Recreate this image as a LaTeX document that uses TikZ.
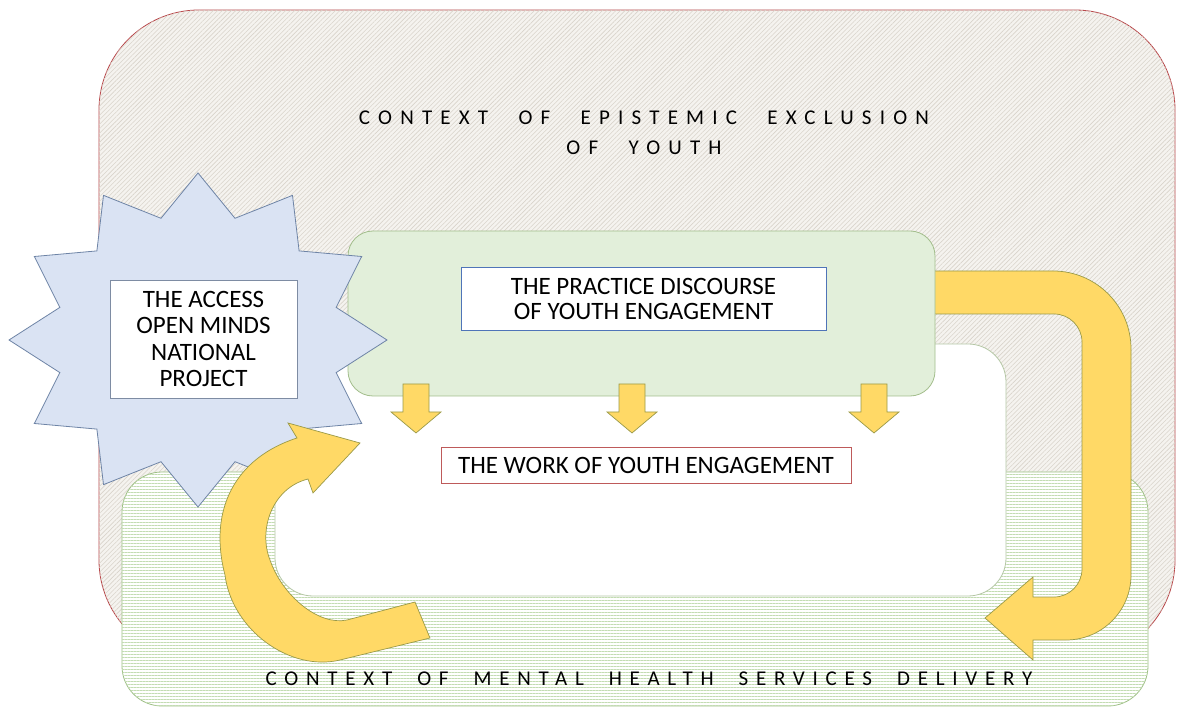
\documentclass[tikz,border=0pt]{standalone}
\usepackage{fontspec}
\setmainfont{Carlito}
\newfontfamily\spacedfont[LetterSpace=39,WordSpace=2.35]{Carlito}
\newfontfamily\spacedfontb[LetterSpace=37,WordSpace=2.0]{Carlito}
\usetikzlibrary{patterns.meta}
\definecolor{redborder}{HTML}{B8474A}
\definecolor{hatchbg}{HTML}{F5F3EF}
\definecolor{hatchline}{HTML}{D9D4CB}
\definecolor{greenline}{HTML}{C3DCB2}
\definecolor{greenborder}{HTML}{9DBF85}
\definecolor{practicefill}{HTML}{E2EFDA}
\definecolor{practiceborder}{HTML}{A3BE8C}
\definecolor{whiteborder}{HTML}{B5C7A5}
\definecolor{arrowfill}{HTML}{FFD966}
\definecolor{arrowborder}{HTML}{9A9A48}
\definecolor{starfill}{HTML}{DAE3F3}
\definecolor{starborder}{HTML}{6E84A6}
\definecolor{boxblue}{HTML}{4F74B8}
\definecolor{boxred}{HTML}{BE5A5A}
\definecolor{boxgray}{HTML}{7E8CA3}
\tikzset{
  epistemic/.style={draw=redborder, line width=0.8pt, fill=hatchbg,
    postaction={pattern={Lines[angle=45,distance=3.2pt,line width=0.6pt]}, pattern color=hatchline}},
  mentalhealth/.style={draw=greenborder, line width=0.8pt, fill=white,
    postaction={pattern={Lines[angle=0,distance=3pt,line width=0.7pt]}, pattern color=greenline}},
  workarea/.style={draw=whiteborder, line width=0.8pt, fill=white},
  practicearea/.style={draw=practiceborder, line width=0.8pt, fill=practicefill},
  yellowarrow/.style={draw=arrowborder, line width=0.7pt, fill=arrowfill, line join=miter},
  starshape/.style={draw=starborder, line width=0.8pt, fill=starfill},
  textbox/.style={fill=white, line width=0.8pt, align=center, inner sep=0pt,
    font=\fontsize{25}{26.5}\selectfont},
  contextlabel/.style={align=center, inner sep=0pt,
    font=\spacedfont\fontsize{21}{30}\selectfont}
}
\begin{document}
\begin{tikzpicture}[x=1pt,y=-1pt]
\useasboundingbox (0,0) rectangle (1179,708);
\fill[white] (0,0) rectangle (1179,708);

% context of epistemic exclusion
\path[epistemic, rounded corners=100] (99,10) rectangle (1175,660);
% context of mental health services delivery
\path[mentalhealth, rounded corners=40] (122,472) rectangle (1148,706);
% work area
\path[workarea, rounded corners=38] (275,344) rectangle (1006,596);

% big right arrow
\draw[yellowarrow] (925,271) -- (1053,271) arc[start angle=-90, end angle=0, radius=78]
  -- (1131,575) arc[start angle=0, end angle=90, radius=65]
  -- (1033,640) -- (1033,660) -- (985,618) -- (1033,577) -- (1033,597)
  -- (1054,597) arc[start angle=90, end angle=0, radius=28]
  -- (1082,342) arc[start angle=0, end angle=-90, radius=28]
  -- (925,314) -- cycle;

% practice discourse area
\path[practicearea, rounded corners=25] (348,231) rectangle (935,396);

% down arrows
\foreach \cx in {416,632,874}{
  \draw[yellowarrow] (\cx-13,384) -- (\cx+13,384) -- (\cx+13,412) -- (\cx+25,412)
    -- (\cx,433) -- (\cx-25,412) -- (\cx-13,412) -- cycle;
}

% star
\begin{scope}[shift={(198,340)}]
\draw[starshape] (0:189 and 167)
  \foreach \a in {0,30,...,330}{ -- ({\a+15}:143 and 126) -- ({\a+30}:189 and 167) } -- cycle;
\end{scope}

% curved left arrow
\draw[yellowarrow] (430,638) -- (340,660) .. controls (290,672) and (232,630) .. (225,575)
  .. controls (208,510) and (235,458) .. (297,438) -- (288,423) -- (360,443) -- (313,493)
  -- (308,479) .. controls (272,488) and (258,530) .. (270,560)
  .. controls (282,595) and (318,626) .. (347,620) -- (415,602) -- cycle;

% text
\node[contextlabel] (epistemiclabel) at (644,133) {CONTEXT OF EPISTEMIC EXCLUSION\\OF YOUTH};
\node[contextlabel, font=\spacedfontb\fontsize{21}{30}\selectfont] (mhlabel) at (649,679)
  {CONTEXT OF MENTAL HEALTH SERVICES DELIVERY};
\node[textbox, draw=boxgray, minimum width=187, minimum height=118] (access) at (203.5,339)
  {THE ACCESS\\OPEN MINDS\\NATIONAL\\PROJECT};
\node[textbox, draw=boxblue, minimum width=365, minimum height=63,
  font=\fontsize{25}{25}\selectfont] (practice) at (643.5,298.5)
  {THE PRACTICE DISCOURSE\\OF YOUTH ENGAGEMENT};
\node[textbox, draw=boxred, minimum width=410, minimum height=36] (work) at (646,465)
  {THE WORK OF YOUTH ENGAGEMENT};
\end{tikzpicture}
\end{document}
